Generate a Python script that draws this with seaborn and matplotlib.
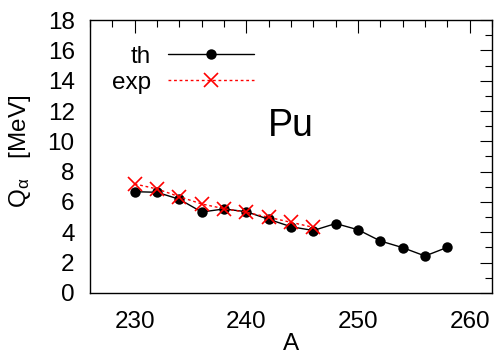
import matplotlib
matplotlib.use("Agg")
import matplotlib.pyplot as plt
import seaborn as sns
import pandas as pd
from matplotlib.ticker import MultipleLocator

# Alpha-decay energies of plutonium isotopes
A_th = [230, 232, 234, 236, 238, 240, 242, 244, 246, 248, 250, 252, 254, 256, 258]
Q_th = [6.68, 6.64, 6.18, 5.34, 5.54, 5.36, 4.86, 4.37, 4.12, 4.58, 4.17, 3.43, 2.99, 2.44, 3.01]
A_exp = [230, 232, 234, 236, 238, 240, 242, 244, 246]
Q_exp = [7.19, 6.86, 6.35, 5.87, 5.56, 5.32, 4.99, 4.66, 4.33]

FS = 17.5

sns.set_theme(style="white")
plt.rcParams["font.family"] = ["Liberation Sans", "DejaVu Sans"]
plt.rcParams["mathtext.fontset"] = "custom"
plt.rcParams["mathtext.rm"] = "Liberation Sans"
plt.rcParams["mathtext.it"] = "Liberation Sans:italic"
for k in ("text.color", "axes.labelcolor", "xtick.color", "ytick.color"):
    plt.rcParams[k] = "black"

fig = plt.figure(figsize=(4.99, 3.56), dpi=100)
ax = fig.add_axes([0.1804, 0.177, 0.8056, 0.7668])

th = pd.DataFrame({"A": A_th, "Q": Q_th})
ex = pd.DataFrame({"A": A_exp, "Q": Q_exp})

sns.lineplot(data=th, x="A", y="Q", ax=ax, color="black", lw=1.0,
             marker="o", markersize=7.5, markeredgewidth=0,
             markeredgecolor="black", label="th")
sns.lineplot(data=ex, x="A", y="Q", ax=ax, color="red", lw=1.0,
             linestyle=(0, (2, 2)), marker="x", markersize=10,
             markeredgewidth=1.2, markeredgecolor="red", label="exp")

ax.set_xlim(226, 262)
ax.set_ylim(0, 18)
ax.xaxis.set_major_locator(MultipleLocator(10))
ax.xaxis.set_minor_locator(MultipleLocator(2))
ax.yaxis.set_major_locator(MultipleLocator(2))
ax.yaxis.set_minor_locator(MultipleLocator(1))
ax.tick_params(which="both", direction="in", top=True, right=True,
               color="black", width=0.8, labelsize=FS)
ax.tick_params(which="major", length=9)
ax.tick_params(which="minor", length=5)
ax.tick_params(axis="x", which="major", pad=13)
ax.tick_params(axis="y", which="major", pad=11)
for s in ax.spines.values():
    s.set_color("black")
    s.set_linewidth(1.0)

ax.set_xlabel("A", fontsize=FS, labelpad=0)
ax.set_ylabel(r"Q$_{\mathrm{\alpha}}$   [MeV]", fontsize=FS)
ax.yaxis.set_label_coords(-0.142, 0.52)

ax.text(244, 11.0, "Pu", fontsize=27, ha="center", va="center")

ax.legend(loc="upper left", bbox_to_anchor=(0.0, 0.985), frameon=False,
          markerfirst=False, fontsize=FS, handlelength=3.55,
          handletextpad=0.7, labelspacing=0.15)

fig.savefig("out.png", dpi=100)
